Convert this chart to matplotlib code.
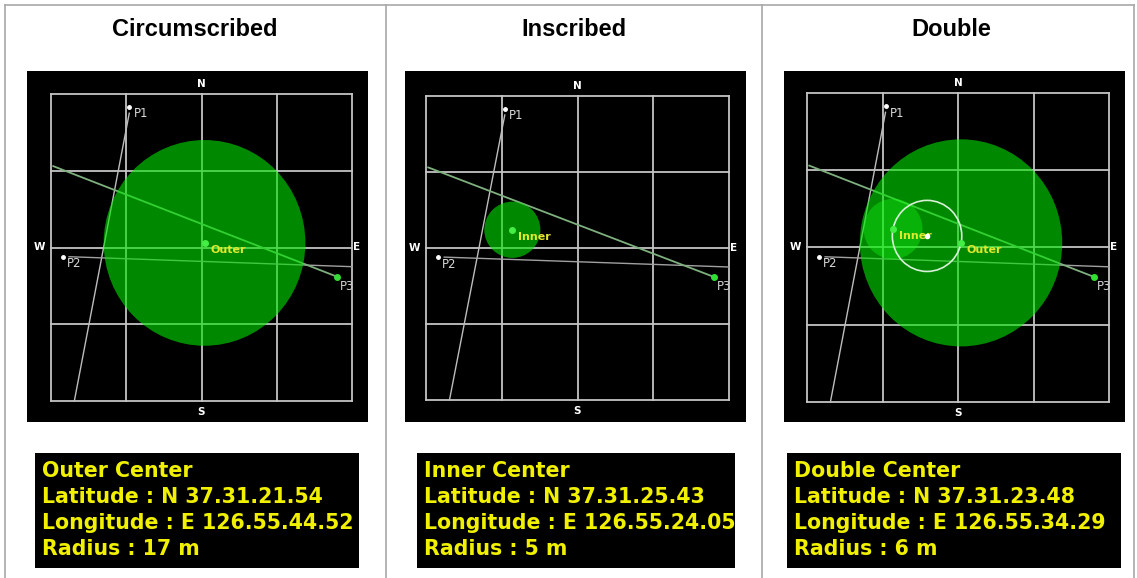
import matplotlib.pyplot as plt
from matplotlib.lines import Line2D
from matplotlib.patches import Circle, Rectangle

W, H = 1137, 578

# ---- data (grid units: 4 x 4 cells, origin at the SW corner) ----
panel_titles = ['Circumscribed', 'Inscribed', 'Double']

p1 = (1.04, 3.83)
p2 = (0.16, 1.88)
p3 = (3.80, 1.62)
line_p1_end = (0.31, 0.0)
line_p2_end = (4.0, 1.75)
line_p3_start = (0.03, 3.06)

outer_center, outer_r = (2.04, 2.06), 1.34
inner_center, inner_r = (1.14, 2.24), 0.37
double_center, double_r = (1.59, 2.15), 0.46

info_titles = ['Outer Center', 'Inner Center', 'Double Center']
latitudes = ['N 37.31.21.54', 'N 37.31.25.43', 'N 37.31.23.48']
longitudes = ['E 126.55.44.52', 'E 126.55.24.05', 'E 126.55.34.29']
radii_m = [17, 5, 6]

# ---- layout in pixels ----
panel_px = [(27, 71, 368, 422), (405, 71, 746, 422), (784, 71, 1125, 422)]
grid_px = [(51, 94, 352, 401), (426, 96, 729, 400), (807, 93, 1109, 402)]
box_px = [(35, 453, 359, 568), (417, 453, 735, 568), (787, 453, 1121, 568)]
col_centers = [195, 574, 951]

GRID = '#c4c4c4'
GREEN_FILL = (0.0, 0.9, 0.0)
YELLOW = '#f0f000'

fig = plt.figure(figsize=(W / 100, H / 100), dpi=100)
fig.patch.set_facecolor('white')


def fx(x):
    return x / W


def fy(y):
    return 1 - y / H


# table frame
frame = dict(color='#a8a8a8', lw=1.2, transform=fig.transFigure)
for x in [5, 386, 762, 1134]:
    fig.add_artist(Line2D([fx(x), fx(x)], [fy(5), fy(578)], **frame))
fig.add_artist(Line2D([fx(5), fx(1134)], [fy(5), fy(5)], **frame))

for i in range(3):
    l, t, r, b = panel_px[i]
    gl, gt, gr, gb = grid_px[i]
    cw = (gr - gl) / 4
    ch = (gb - gt) / 4
    ax = fig.add_axes([fx(l), fy(b), (r - l) / W, (b - t) / H])
    ax.set_facecolor('black')
    ax.set_xlim((l - gl) / cw, (r - gl) / cw)
    ax.set_ylim((gb - b) / ch, (gb - t) / ch)
    ax.set_xticks([])
    ax.set_yticks([])
    for s in ax.spines.values():
        s.set_visible(False)

    fig.text(fx(col_centers[i]), fy(30), panel_titles[i], ha='center', va='center',
             fontsize=17, fontweight='bold', family='Liberation Sans')

    # grid
    for k in range(5):
        ax.plot([k, k], [0, 4], color=GRID, lw=1.3, zorder=1)
        ax.plot([0, 4], [k, k], color=GRID, lw=1.3, zorder=1)

    # construction lines
    ax.plot([p1[0], line_p1_end[0]], [p1[1] - 0.08, line_p1_end[1]], color='#bdbdbd', lw=1.0, zorder=2)
    ax.plot([p2[0] + 0.08, line_p2_end[0]], [p2[1], line_p2_end[1]], color='#a0a0a0', lw=1.0, zorder=2)
    ax.plot([line_p3_start[0], p3[0]], [line_p3_start[1], p3[1]], color='#7fb07f', lw=1.3, zorder=2)

    # circles
    if i in (0, 2):
        ax.add_patch(Circle(outer_center, outer_r, facecolor=GREEN_FILL, alpha=0.6,
                            edgecolor='none', zorder=3))
    if i == 1:
        ax.add_patch(Circle(inner_center, inner_r, facecolor=GREEN_FILL, alpha=0.6,
                            edgecolor='none', zorder=3))
    if i == 2:
        ax.add_patch(Circle(inner_center, inner_r + 0.02, facecolor=(0.1, 1.0, 0.1), alpha=0.35,
                            edgecolor='none', zorder=3))
        ax.add_patch(Circle(double_center, double_r, facecolor='none',
                            edgecolor='#d8f0d8', lw=1.2, zorder=4))

    # points
    for p, name in [(p1, 'P1'), (p2, 'P2')]:
        ax.plot(*p, 'o', color='white', ms=2.5, zorder=5)
        ax.annotate(name, p, xytext=(3, -5), textcoords='offset points',
                    color='#d8d8d8', fontsize=8.5, va='center', ha='left')
    ax.plot(*p3, 'o', color='#33dd33', ms=4, zorder=5)
    ax.annotate('P3', p3, xytext=(2, -7), textcoords='offset points',
                color='#d0d0d0', fontsize=8.5, va='center', ha='left')

    centers = []
    if i in (0, 2):
        centers.append((outer_center, 'Outer'))
    if i in (1, 2):
        centers.append((inner_center, 'Inner'))
    for c, name in centers:
        ax.plot(*c, 'o', color='#44ee44', ms=4, zorder=5)
        ax.annotate(name, c, xytext=(4, -5), textcoords='offset points',
                    color='#e0e830', fontsize=8, fontweight='bold', va='center', ha='left',
                    zorder=6)
    if i == 2:
        ax.plot(*double_center, 'o', color='white', ms=3, zorder=6)

    # compass
    cfont = dict(color='white', fontsize=7.5, fontweight='bold', zorder=6)
    ax.annotate('N', (2, 4), xytext=(0, 7), textcoords='offset points', ha='center', va='center', **cfont)
    ax.annotate('S', (2, 0), xytext=(0, -8), textcoords='offset points', ha='center', va='center', **cfont)
    ax.annotate('W', (0, 2), xytext=(-8, 0), textcoords='offset points', ha='center', va='center', **cfont)
    ax.annotate('E', (4, 2), xytext=(3, 0), textcoords='offset points', ha='center', va='center', **cfont)

    # info box
    bl, bt, br, bb = box_px[i]
    fig.add_artist(Rectangle((fx(bl), fy(bb)), (br - bl) / W, (bb - bt) / H,
                             transform=fig.transFigure, facecolor='black', edgecolor='none'))
    lines = [info_titles[i], f'Latitude : {latitudes[i]}',
             f'Longitude : {longitudes[i]}', f'Radius : {radii_m[i]} m']
    for k, txt in enumerate(lines):
        fig.text(fx(bl + 7), fy(471 + k * 26), txt, ha='left', va='center',
                 color=YELLOW, fontsize=14.8, fontweight='bold', family='DejaVu Sans')

fig.savefig('out.png', dpi=100)
